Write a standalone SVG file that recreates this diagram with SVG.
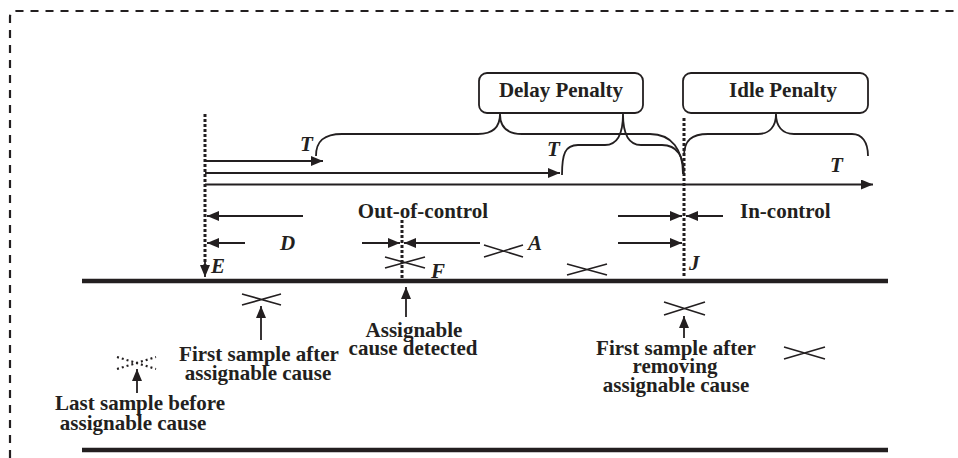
<svg xmlns="http://www.w3.org/2000/svg" width="958" height="458" viewBox="0 0 958 458">
<style>
.t{font-family:"Liberation Serif","Times New Roman",serif;font-weight:bold;font-size:21px;fill:#231f20}
.i{font-style:italic}
.ln{stroke:#231f20;stroke-width:1.8;fill:none}
.br{stroke:#231f20;stroke-width:1.8;fill:none}
.x{stroke:#231f20;stroke-width:1.6;fill:none}
.dot{stroke:#231f20;stroke-width:3;stroke-dasharray:3 2;fill:none}
.box{fill:#fff;stroke:#231f20;stroke-width:1.8}
.axis{stroke:#231f20;stroke-width:4.5}
</style>
<defs>
<marker id="ah" markerUnits="userSpaceOnUse" markerWidth="13" markerHeight="10" refX="12" refY="5" orient="auto">
<path d="M0,0 L12,5 L0,10 z" fill="#231f20"/>
</marker>
</defs>
<rect width="958" height="458" fill="#fff"/>
<path d="M10,458 L10,17 Q10,11 16,11 L958,11" fill="none" stroke="#231f20" stroke-width="2.2" stroke-dasharray="8 7"/>

<g id="axes">
<line class="axis" x1="82" y1="281" x2="888" y2="281"/>
<line class="axis" x1="82" y1="450" x2="888" y2="450"/>
</g>

<g id="delay-penalty">
<rect class="box" x="479" y="73" width="164" height="40" rx="8"/>
<text class="t" x="561" y="97" text-anchor="middle">Delay Penalty</text>
</g>
<g id="idle-penalty">
<rect class="box" x="683" y="73" width="185" height="40" rx="8"/>
<text class="t" x="783" y="97" text-anchor="middle">Idle Penalty</text>
</g>

<g id="markers-dotted">
<line class="dot" x1="205" y1="114" x2="205" y2="268"/>
<line class="dot" x1="402" y1="220" x2="402" y2="281"/>
<line class="dot" x1="684" y1="118" x2="684" y2="276"/>
</g>

<g id="connectors">
<line class="ln" x1="205" y1="161" x2="323" y2="161" marker-end="url(#ah)"/>
<line class="ln" x1="205" y1="173" x2="560" y2="173" marker-end="url(#ah)"/>
<line class="ln" x1="205" y1="184.5" x2="873" y2="184.5" marker-end="url(#ah)"/>
<line class="ln" x1="303" y1="216" x2="207" y2="216" marker-end="url(#ah)"/>
<line class="ln" x1="245" y1="243" x2="207" y2="243" marker-end="url(#ah)"/>
<line class="ln" x1="362" y1="243" x2="400" y2="243" marker-end="url(#ah)"/>
<line class="ln" x1="480" y1="243" x2="404" y2="243" marker-end="url(#ah)"/>
<line class="ln" x1="618" y1="216" x2="682" y2="216" marker-end="url(#ah)"/>
<line class="ln" x1="618" y1="243" x2="682" y2="243" marker-end="url(#ah)"/>
<line class="ln" x1="723" y1="216" x2="686" y2="216" marker-end="url(#ah)"/>
<line class="ln" x1="205" y1="262" x2="205" y2="277" marker-end="url(#ah)"/>
<line class="ln" x1="261" y1="340" x2="261" y2="306" marker-end="url(#ah)"/>
<line class="ln" x1="137" y1="393" x2="137" y2="369" marker-end="url(#ah)"/>
<line class="ln" x1="406" y1="317" x2="406" y2="287" marker-end="url(#ah)"/>
<line class="ln" x1="684" y1="338" x2="684" y2="316" marker-end="url(#ah)"/>
</g>

<g id="braces">
<path class="br" d="M316,156 C316,141 324,134 342,134 L478,134 C493,134 500,127 500,114 C500,127 507,134 522,134 L650,134 C672,134 683,150 683,174"/>
<path class="br" d="M562,175 C562,154 565,145 578,145 L605,145 C617,145 623,134 623,114 C623,134 629,145 641,145 L662,145 C676,145 684,155 684,176"/>
<path class="br" d="M684,156 C684,140 692,134 708,134 L758,134 C770,134 776,126 776,114 C776,126 782,134 794,134 L852,134 C862,134 868,142 868,156"/>
</g>

<g id="samples">
<path class="x" d="M385,257 L425,268 M385,268 L425,257"/>
<path class="x" d="M484,245 L523,257 M484,257 L523,245"/>
<path class="x" d="M567,264 L607,275 M567,275 L607,264"/>
<path class="x" d="M242,294 L281,305 M242,305 L281,294"/>
<path class="x" d="M664,302 L705,315 M664,315 L705,302"/>
<path class="x" d="M784,347 L825,359 M784,359 L825,347"/>
<path d="M117,357 L156,369 M117,369 L156,357" fill="none" stroke="#231f20" stroke-width="2.2" stroke-dasharray="2 3"/>
</g>

<g id="labels">
<text class="t i" x="300" y="151">T</text>
<text class="t i" x="547" y="156">T</text>
<text class="t i" x="830" y="172">T</text>
<text class="t" x="423" y="218" text-anchor="middle">Out-of-control</text>
<text class="t" x="740" y="218">In-control</text>
<text class="t i" x="280" y="250">D</text>
<text class="t i" x="528" y="250">A</text>
<text class="t i" x="211" y="273">E</text>
<text class="t i" x="431" y="278">F</text>
<text class="t i" x="689" y="270">J</text>
</g>

<g id="first-sample-after">
<text class="t" x="259" y="361" text-anchor="middle">First sample after</text>
<text class="t" x="258" y="380" text-anchor="middle">assignable cause</text>
</g>
<g id="last-sample-before">
<text class="t" x="140" y="410" text-anchor="middle">Last sample before</text>
<text class="t" x="133" y="430" text-anchor="middle">assignable cause</text>
</g>
<g id="cause-detected">
<text class="t" x="414" y="337" text-anchor="middle">Assignable</text>
<text class="t" x="413" y="355" text-anchor="middle">cause detected</text>
</g>
<g id="first-sample-removing">
<text class="t" x="676" y="355" text-anchor="middle">First sample after</text>
<text class="t" x="675" y="373" text-anchor="middle">removing</text>
<text class="t" x="676" y="392" text-anchor="middle">assignable cause</text>
</g>
</svg>
